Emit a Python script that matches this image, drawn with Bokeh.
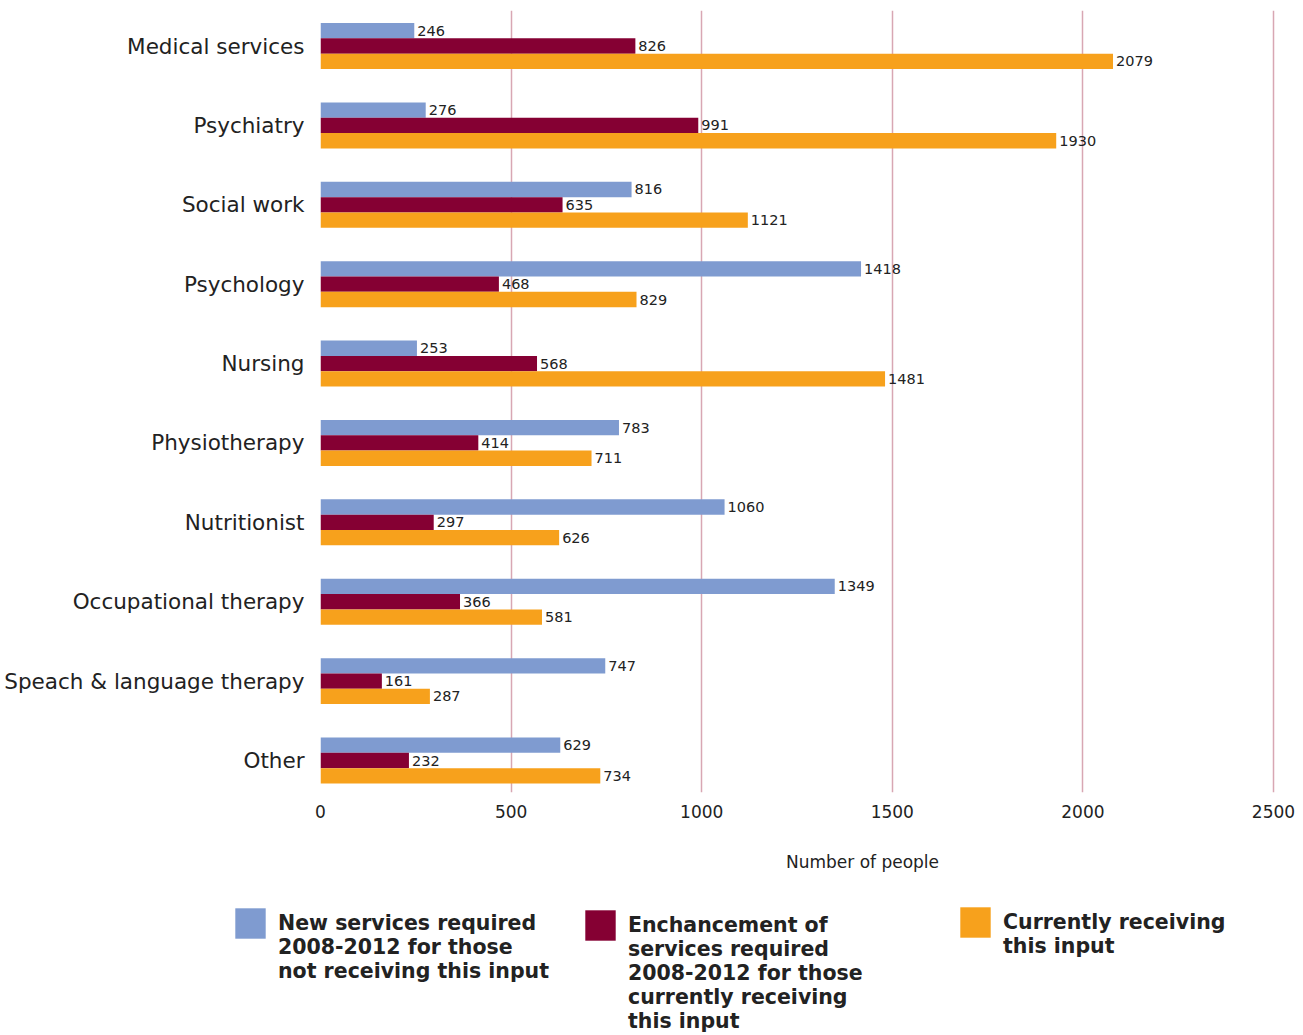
from bokeh.plotting import figure
from bokeh.layouts import column
from bokeh.models import (ColumnDataSource, Range1d, FixedTicker, Label, Legend, LegendItem)
from bokeh.transform import dodge
from bokeh.core.properties import value
from bokeh.embed import file_html
from bokeh.resources import INLINE

categories = ["Medical services", "Psychiatry", "Social work", "Psychology", "Nursing",
              "Physiotherapy", "Nutritionist", "Occupational therapy",
              "Speach & language therapy", "Other"]
new_services = [246, 276, 816, 1418, 253, 783, 1060, 1349, 747, 629]
enhancement = [826, 991, 635, 468, 568, 414, 297, 366, 161, 232]
currently = [2079, 1930, 1121, 829, 1481, 711, 626, 581, 287, 734]
x_ticks = [0, 500, 1000, 1500, 2000, 2500]
series_names = ["New services required\n2008-2012 for those\nnot receiving this input",
                "Enchancement of\nservices required\n2008-2012 for those\ncurrently receiving\nthis input",
                "Currently receiving\nthis input"]
colors = ["#7F9BD0", "#850033", "#F7A11C"]

FONT = "DejaVu Sans"
TXT = "#222222"

pos = list(range(len(categories) - 1, -1, -1))
src = ColumnDataSource(dict(
    y=pos, cat=categories,
    new=new_services, enh=enhancement, cur=currently,
    new_t=[str(v) for v in new_services],
    enh_t=[str(v) for v in enhancement],
    cur_t=[str(v) for v in currently],
))

p = figure(frame_width=955, frame_height=782, min_border_left=320, min_border_right=28,
           min_border_top=10, min_border_bottom=48,
           x_range=Range1d(0, 2500 * 955 / 953), y_range=Range1d(-0.403, 9.4475),
           output_backend="svg", toolbar_location=None, outline_line_color=None,
           background_fill_color="white", border_fill_color="white")
p.frame_align = False

bh = 0.193
offsets = [bh, 0.0, -bh]
fields = ["new", "enh", "cur"]
for f, off, c in zip(fields, offsets, colors):
    p.hbar(y=dodge("y", off), right=f, left=0, height=bh, source=src,
           fill_color=c, line_color=None)
    p.text(x=f, y=dodge("y", off), text=f + "_t", source=src, x_offset=3,
           text_baseline="middle", text_align="left", text_font_size="14.5px",
           text_font=value(FONT), text_color=TXT)

p.xaxis.ticker = FixedTicker(ticks=x_ticks)
p.xaxis.axis_line_color = None
p.xaxis.major_tick_line_color = None
p.xaxis.minor_tick_line_color = None
p.xaxis.major_label_standoff = 6
p.xaxis.major_label_text_font = FONT
p.xaxis.major_label_text_font_size = "17px"
p.xaxis.major_label_text_color = TXT

p.yaxis.ticker = FixedTicker(ticks=pos)
p.yaxis.major_label_overrides = {pp: c for pp, c in zip(pos, categories)}
p.yaxis.axis_line_color = None
p.yaxis.major_tick_line_color = None
p.yaxis.minor_tick_line_color = None
p.yaxis.major_label_standoff = 10
p.yaxis.major_label_text_font = FONT
p.yaxis.major_label_text_font_size = "21.5px"
p.yaxis.major_label_text_color = TXT

p.ygrid.grid_line_color = None
p.xgrid.grid_line_color = "#D8A7B3"
p.xgrid.grid_line_width = 1.5

# lower panel: axis title and legend
W2, H2 = 1303, 195
p2 = figure(width=W2, height=H2, x_range=Range1d(0, W2), y_range=Range1d(0, H2),
            min_border=0, min_border_left=0, min_border_right=0, min_border_top=0,
            min_border_bottom=0, output_backend="svg", toolbar_location=None,
            x_axis_location=None, y_axis_location=None, outline_line_color=None,
            background_fill_color="white", border_fill_color="white")
p2.frame_align = False
p2.grid.grid_line_color = None

p2.add_layout(Label(x=862, y=174, text="Number of people", text_align="center",
                    text_baseline="middle", text_font=FONT, text_font_size="17px",
                    text_color=TXT))

leg_locs = [(231, 52), (581, 2), (956, 77)]
for f, name, c, loc in zip(fields, series_names, colors, leg_locs):
    # hidden copy of the series, used only as the legend's glyph source
    r = p2.hbar(y="y", right=f, left=0, height=0.5, source=src,
                fill_color=c, line_color=None, visible=False)
    n = name.count("\n")
    # leading blank lines so the swatch lines up with the first text line
    label = "\n" * n + name
    lg = Legend(items=[LegendItem(label=label, renderers=[r])], location=loc,
                glyph_width=38, glyph_height=38, label_standoff=9,
                padding=0, margin=0, border_line_color=None, background_fill_alpha=0,
                inactive_fill_alpha=0,
                label_text_font=FONT, label_text_font_size="20.5px",
                label_text_font_style="bold", label_text_color=TXT)
    p2.add_layout(lg, "center")

layout = column(p, p2, spacing=0)
open("out.html", "w").write(file_html(layout, INLINE))
